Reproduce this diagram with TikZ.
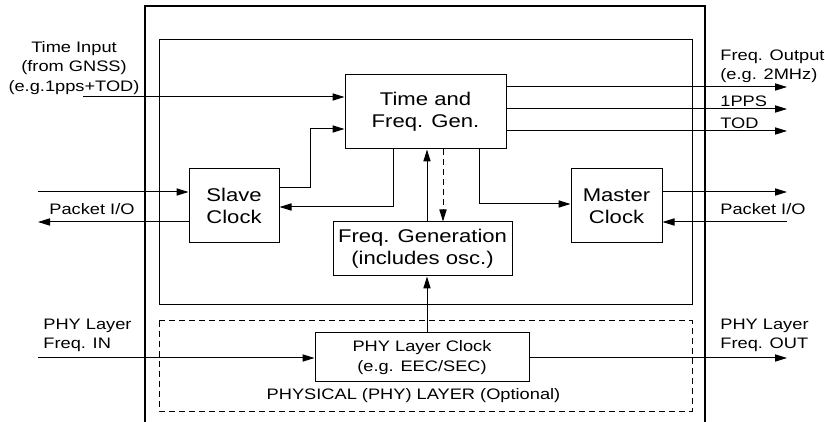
\documentclass[tikz,border=0pt]{standalone}
\usepackage{fontspec}
\setmainfont{Liberation Sans}[FakeStretch = 1.2]
\usepackage{tikz}
\usetikzlibrary{calc}
\usetikzlibrary{arrows.meta}
\tikzset{>={Triangle[length = 6pt, width = 3.6pt]}}
\tikzstyle{blk} = [draw = black, line width = .5pt, inner sep = 0, align = center, font = \fontsize{9.2}{10.8}\selectfont]
\tikzstyle{lbl} = [draw = none, inner sep = 0, font = \fontsize{7.6}{9.6}\selectfont]
\tikzstyle{wire} = [->, draw = black, line width = .5pt]

\begin{document}
\begin{tikzpicture}[x = .5pt, y = -.5pt]
\useasboundingbox (0, 0) rectangle (825, 422);
% frames
\draw [line width = .6pt] (145, 422) -- (145, 6) -- (705, 6) -- (705, 422);
\draw [line width = .5pt] (159, 40) rectangle (692, 305);
\draw [line width = .5pt, dash pattern = on 3pt off 2pt] (159, 321) rectangle (692, 411);
% blocks
\node [blk, minimum width = 80.5pt, minimum height = 37pt] (tfg) at (425.5, 112) {Time and\\Freq. Gen.};
\node [blk, minimum width = 45pt, minimum height = 37pt] (slave) at (234, 206) {Slave\\Clock};
\node [blk, minimum width = 45.5pt, minimum height = 37pt] (master) at (616.5, 206) {Master\\Clock};
\node [blk, minimum width = 89.5pt, minimum height = 27pt] (fgen) at (422.5, 249) {Freq. Generation\\(includes osc.)};
\node [blk, minimum width = 107pt, minimum height = 24.5pt, font = \fontsize{7.6}{9.6}\selectfont] (phy) at (422, 357.5) {PHY Layer Clock\\(e.g. EEC/SEC)};
% labels
\node [lbl, align = center] (tinl) at (74, 68) {Time Input\\(from GNSS)\\(e.g.1pps+TOD)};
\node [lbl] (pktl) at (92, 209) {Packet I/O};
\node [lbl] (pktr) at (763, 209) {Packet I/O};
\node [lbl, anchor = west, align = left] (foutl) at (720, 66) {Freq. Output\\(e.g. 2MHz)};
\node [lbl, anchor = west] (ppsl) at (720, 101.5) {1PPS};
\node [lbl, anchor = west] (todl) at (720, 123) {TOD};
\node [lbl, anchor = west, align = left] (phyinl) at (43, 335) {PHY Layer\\Freq. IN};
\node [lbl, anchor = west, align = left] (phyoutl) at (720, 335) {PHY Layer\\Freq. OUT};
\node [lbl] (phyl) at (413.5, 396) {PHYSICAL (PHY) LAYER (Optional)};
% free ends
\coordinate (tin) at (83, 97);
\coordinate (pinl) at (38, 192);
\coordinate (poutl) at (38, 222);
\coordinate (phyin) at (38, 358);
\coordinate (poutr) at (787, 192);
\coordinate (pinr) at (787, 222);
\coordinate (phyout) at (787, 358);
% connectors
\draw [wire] (tin) -- (tin -| tfg.west);
\draw [wire] (slave.east |- 0, 188) -- (310, 188) |- (tfg.west |- 0, 129);
\draw [wire] (tfg.south -| 393, 0) |- (slave.east |- 0, 207);
\draw [wire] (tfg.south -| 479, 0) |- (master.west |- 0, 204);
\draw [wire] (fgen.north -| 427, 0) -- (tfg.south -| 427, 0);
\draw [wire, dash pattern = on 3pt off 2pt] (tfg.south -| 443, 0) -- (fgen.north -| 443, 0);
\draw [wire] (phy.north -| 427, 0) -- (fgen.south -| 427, 0);
\foreach \y/\nm in {87/fout, 109/pps, 131/tod} {
  \coordinate (\nm) at (787, \y);
  \draw [wire] (tfg.east |- \nm) -- (\nm);
}
\draw [wire] (pinl) -- (pinl -| slave.west);
\draw [wire] (poutl -| slave.west) -- (poutl);
\draw [wire] (master.east |- poutr) -- (poutr);
\draw [wire] (pinr) -- (pinr -| master.east);
\draw [wire] (phyin) -- (phyin -| phy.west);
\draw [wire] (phy.east |- phyout) -- (phyout);
\end{tikzpicture}
\end{document}
